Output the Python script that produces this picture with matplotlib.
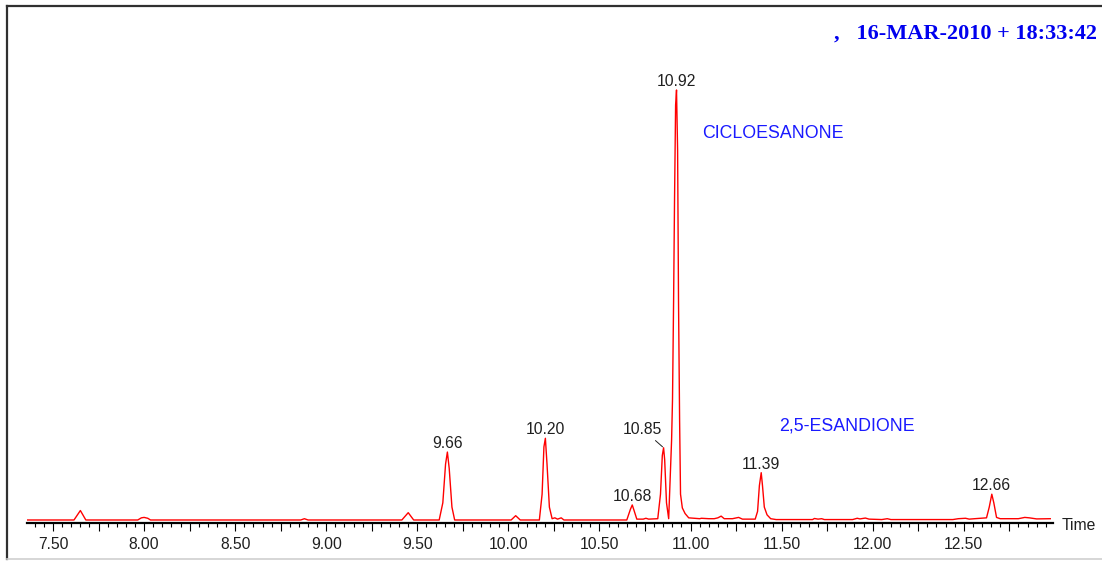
import matplotlib.pyplot as plt
from matplotlib.lines import Line2D
import numpy as np

# chromatogram trace (time in min, relative abundance %)
times = [7.357, 7.615, 7.650, 7.680, 7.965, 7.985, 8.000, 8.020, 8.035,
         8.860, 8.880, 8.900, 9.415, 9.450, 9.480,
         9.620, 9.640, 9.655, 9.665, 9.675, 9.690, 9.705,
         10.015, 10.040, 10.065,
         10.170, 10.185, 10.195, 10.203, 10.212, 10.225, 10.240, 10.255, 10.270, 10.290, 10.305,
         10.650, 10.670, 10.680, 10.690, 10.705, 10.740, 10.755, 10.770,
         10.820, 10.835, 10.845, 10.852, 10.858, 10.868, 10.880,
         10.896, 10.901, 10.907, 10.912, 10.918, 10.923, 10.929, 10.934, 10.940, 10.945,
         10.955, 10.970, 10.990, 11.050, 11.060, 11.100, 11.130, 11.150, 11.168, 11.185,
         11.230, 11.264, 11.285, 11.355, 11.368, 11.378, 11.388, 11.395, 11.405, 11.420,
         11.440, 11.470, 11.670, 11.680, 11.700, 11.720, 11.735, 11.890, 11.915, 11.930,
         11.960, 11.980, 12.050, 12.080, 12.100, 12.440, 12.470, 12.510, 12.530, 12.560,
         12.625, 12.640, 12.654, 12.665, 12.680, 12.700, 12.800, 12.835, 12.860, 12.900, 12.975]
abund = [0, 0, 2.2, 0, 0, 0.5, 0.6, 0.4, 0,
         0, 0.3, 0, 0, 1.7, 0,
         0, 4, 13, 15.8, 12, 3, 0,
         0, 1.0, 0,
         0, 6, 17, 19, 13, 3, 0.3, 0.5, 0.2, 0.5, 0,
         0, 2.5, 3.5, 2.2, 0.2, 0.2, 0.4, 0.2,
         0.3, 6, 15, 16.8, 14, 4, 0.3,
         18.6, 28, 51, 74, 96.5, 100, 86, 51, 23, 6,
         2.8, 1.5, 0.5, 0.3, 0.4, 0.3, 0.3, 0.5, 0.9, 0.3,
         0.3, 0.6, 0.2, 0.2, 2, 8, 11, 8, 3, 1.2,
         0.3, 0.1, 0.1, 0.35, 0.2, 0.3, 0.1, 0.1, 0.4, 0.25,
         0.45, 0.2, 0.1, 0.3, 0.1, 0.1, 0.3, 0.4, 0.2, 0.3,
         0.5, 3, 6, 4, 0.6, 0.3, 0.3, 0.6, 0.5, 0.25, 0.3]

# labelled peaks
peak_times = [9.665, 10.203, 10.680, 10.852, 10.923, 11.388, 12.654]
peak_heights = [15.8, 19, 3.5, 16.8, 100, 11, 6]
peak_labels = ['9.66', '10.20', '10.68', '10.85', '10.92', '11.39', '12.66']

compound_names = ['CICLOESANONE', '2,5-ESANDIONE']
compound_pos = [(11.066, 89.8), (11.489, 21.9)]

tick_pos = [7.5, 7.75, 8.0, 8.25, 8.5, 8.75, 9.0, 9.25, 9.5, 9.75, 10.0, 10.25,
            10.5, 10.75, 11.0, 11.25, 11.5, 11.75, 12.0, 12.25, 12.5, 12.75]
tick_labels = ['7.50', '', '8.00', '', '8.50', '', '9.00', '', '9.50', '', '10.00', '',
               '10.50', '', '11.00', '', '11.50', '', '12.00', '', '12.50', '']

W, H = 1102, 561
fig = plt.figure(figsize=(W / 100, H / 100), dpi=100)
ax = fig.add_axes([27 / W, 1 - 523 / H, (1053 - 27) / W, (523 - 50) / H])

ax.plot(times, abund, color='#ff0000', lw=1.0)
ax.set_xlim(7.357, 12.99)
ax.set_ylim(-0.7, 109.3)

for s in ['top', 'right', 'left']:
    ax.spines[s].set_visible(False)
ax.spines['bottom'].set_linewidth(1.6)
ax.spines['bottom'].set_color('black')
ax.set_yticks([])

ax.set_xticks(tick_pos)
ax.set_xticklabels(tick_labels, fontsize=11.3, fontname='Liberation Sans', color='#202020')
ax.set_xticks(np.arange(7.40, 12.99, 0.05), minor=True)
ax.tick_params(axis='x', which='major', direction='out', length=6, width=0.8, pad=4)
ax.tick_params(axis='x', which='minor', direction='out', length=3, width=0.8)

for t, h, lab in zip(peak_times, peak_heights, peak_labels):
    if lab == '10.85':
        ax.annotate(lab, xy=(t, h), xytext=(-15, 10), textcoords='offset points',
                    ha='center', va='baseline', fontsize=11.3, fontname='Liberation Sans',
                    color='#202020',
                    arrowprops=dict(arrowstyle='-', lw=0.7, color='#202020',
                                    shrinkA=1, shrinkB=1))
    else:
        ax.annotate(lab, xy=(t, h), xytext=(0, 3), textcoords='offset points',
                    ha='center', va='baseline', fontsize=11.3, fontname='Liberation Sans',
                    color='#202020')

for name, (x, y) in zip(compound_names, compound_pos):
    ax.text(x, y, name, ha='left', va='center', fontsize=12.8,
            fontname='Liberation Sans', color='#1a1aff')

fig.text(1062 / W, 1 - 525 / H, 'Time', ha='left', va='center', fontsize=11.3,
         fontname='Liberation Sans', color='#202020')

fig.text(1097 / W, 1 - 34 / H, ',   16-MAR-2010 + 18:33:42', ha='right', va='center',
         fontsize=16, fontname='Liberation Serif', fontweight='bold', color='#0000ee')

# outer frame
fig.add_artist(Line2D([7 / W, 1], [1 - 6 / H, 1 - 6 / H], color='#303030', lw=1.6))
fig.add_artist(Line2D([7 / W, 7 / W], [1 - 6 / H, 1 - 559 / H], color='#303030', lw=1.6))
fig.add_artist(Line2D([7 / W, 1], [1 - 559 / H, 1 - 559 / H], color='#d0d0d0', lw=1.2))

fig.savefig('out.png', dpi=100, facecolor='white')
